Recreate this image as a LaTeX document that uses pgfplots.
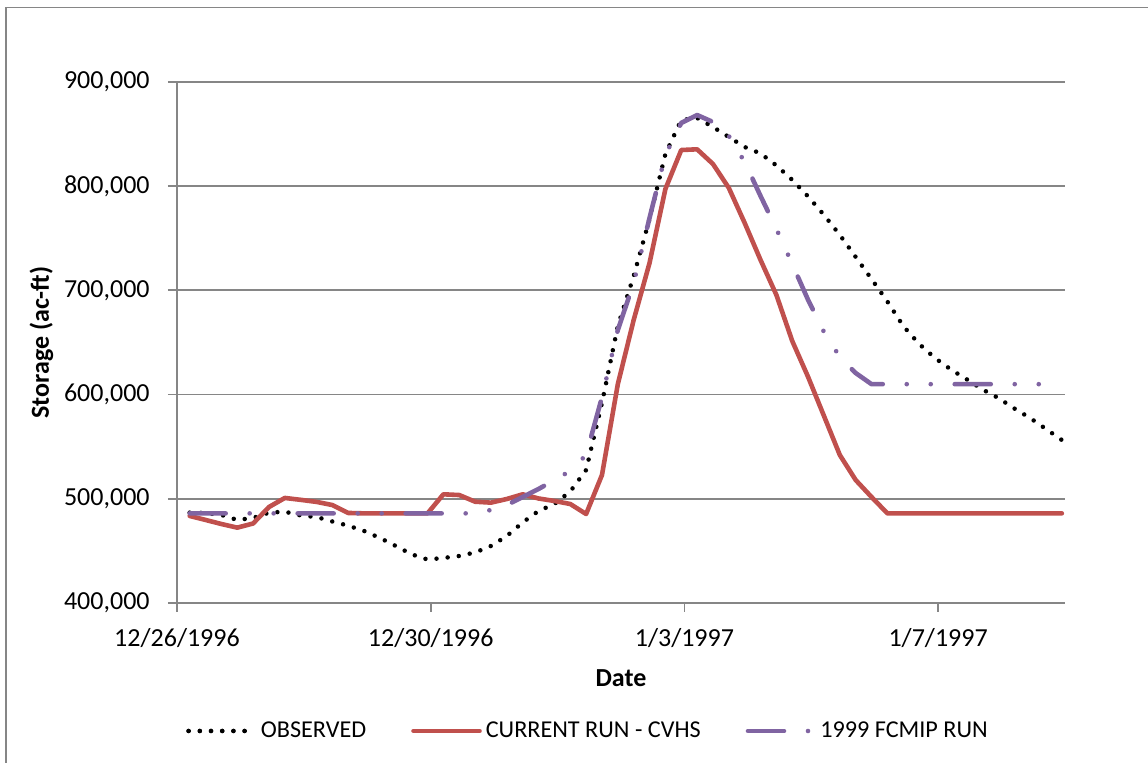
\documentclass[border=0pt]{standalone}
\usepackage{fontspec}
\setmainfont{Carlito}
\usepackage{pgfplots}
\pgfplotsset{compat=1.18}
\usepackage{pgfplotstable}
\definecolor{cvhs}{HTML}{C0504D}
\definecolor{fcmip}{HTML}{8064A2}
\definecolor{axgray}{HTML}{868686}
\pgfplotsset{obslegend/.style={legend image code/.code={\path (0pt,0pt) -- (33pt,0pt); \draw[##1] (0pt,0pt) -- (28pt,0pt);}}}

\pgfplotstableread{
x obs cur fcm
0.20 486700 483500 486000
0.45 486400 479700 486000
0.70 484500 475800 486000
0.95 479700 472300 486000
1.20 481600 476300 486000
1.45 486700 492100 486000
1.70 487600 500800 486000
1.95 484000 499000 486000
2.20 482500 497000 486000
2.45 478200 494000 486000
2.70 474200 486400 486000
2.95 469100 486000 486000
3.20 462400 486000 486000
3.45 454700 486000 486000
3.70 446700 486000 486000
3.95 441700 486000 486000
4.20 443200 504300 486000
4.45 445100 503600 486000
4.70 448500 497200 486000
4.95 454700 496300 489300
5.20 464300 499800 494000
5.45 477300 504300 501700
5.70 488300 500300 509400
5.95 495000 497900 518000
6.20 507000 495000 526700
6.45 527600 485400 542000
6.70 591900 522800 597500
6.95 665800 610000 662000
7.20 713800 671600 707100
7.45 768500 726300 769500
7.70 830900 797300 830000
7.95 863500 834700 860700
8.20 865500 835400 868300
8.45 856800 821300 861600
8.70 847200 798300 848200
8.95 837600 764700 823200
9.20 831400 729200 790600
9.45 819900 695600 759000
9.70 806000 651400 725300
9.95 790100 616900 690800
10.20 772400 579500 660100
10.45 753200 542000 636100
10.70 732100 518000 620700
10.95 710900 501700 610000
11.20 689300 486000 610000
11.45 665800 486000 610000
11.70 648600 486000 610000
11.95 635100 486000 610000
12.20 624100 486000 610000
12.45 614700 486000 610000
12.70 604900 486000 610000
12.95 596700 486000 610000
13.20 586700 486000 610000
13.45 577500 486000 610000
13.70 567000 486000 610000
13.95 556400 486000 610000
}\storagedata

\begin{document}
\begin{tikzpicture}
\useasboundingbox (0,0) rectangle (574pt,381.5pt);
\draw[axgray, line width=0.75pt] (3pt,-5pt) -- (3pt,377.75pt) -- (580pt,377.75pt);
\begin{axis}[
  at={(88.5pt,80pt)}, anchor=south west,
  scale only axis, width=444pt, height=260.5pt,
  xmin=0, xmax=14, ymin=400000, ymax=900000,
  xtick={0,4,8,12},
  xticklabels={12/26/1996,12/30/1996,1/3/1997,1/7/1997},
  ytick={400000,500000,600000,700000,800000,900000},
  scaled y ticks=false,
  /pgf/number format/assume math mode=true,
  yticklabel style={/pgf/number format/fixed, /pgf/number format/1000 sep={,}, anchor=east, inner sep=0pt, xshift=-9pt},
  xticklabel style={anchor=base, yshift=-17.5pt},
  tick label style={font=\fontsize{13}{15}\selectfont, text=black},
  axis lines*=left,
  axis line style={axgray, line width=0.9pt},
  ymajorgrids,
  grid style={axgray, line width=0.9pt},
  tick style={axgray, line width=0.9pt},
  tick align=outside,
  major tick length=4.5pt,
  xlabel={Date},
  ylabel={Storage (ac-ft)},
  xlabel style={at={(axis description cs:0.5,-0.144)}, anchor=center, font=\bfseries\fontsize{13}{15}\selectfont},
  ylabel style={at={(axis description cs:-0.1526,0.5)}, anchor=center, font=\bfseries\fontsize{13}{15}\selectfont},
  legend columns=3,
  legend image code/.code={\draw[#1] (0pt,0pt) -- (33pt,0pt);},
  legend style={at={(axis description cs:0.464,-0.2457)}, anchor=center, draw=none, fill=none,
    font=\fontsize{12.1}{14}\selectfont,
    nodes={inner xsep=2pt},
    /tikz/every even column/.append style={column sep=20.5pt}},
]
\addplot[black, line width=2.25pt, line cap=round, dash pattern=on 0pt off 5.6pt, obslegend]
  table[x=x,y=obs] \storagedata;
\addlegendentry{OBSERVED}
\addplot[cvhs, line width=2.3pt, line cap=round, line join=round] table[x=x,y=cur] \storagedata;
\addlegendentry{CURRENT RUN - CVHS}
\addplot[fcmip, line width=2.3pt, line cap=round, line join=round, dash pattern=on 18pt off 12pt on 0pt off 12pt on 0pt off 12pt] table[x=x,y=fcm] \storagedata;
\addlegendentry{1999 FCMIP RUN}
\end{axis}
\end{tikzpicture}
\end{document}
